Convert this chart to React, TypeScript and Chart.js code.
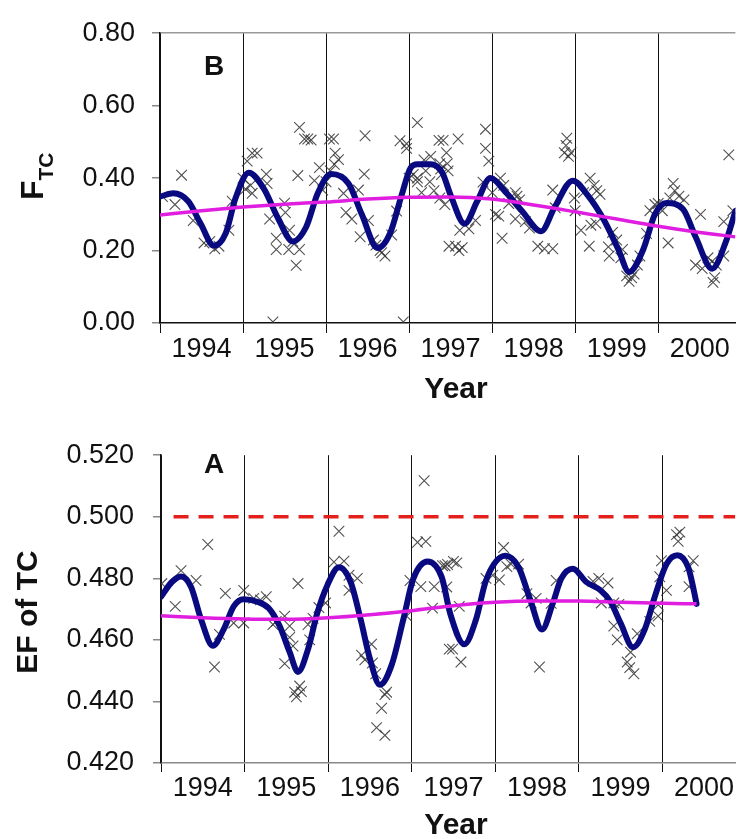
import React, { useEffect, useRef } from 'react';
import { Chart, registerables } from 'chart.js';

Chart.register(...registerables);

const FONT = '"Liberation Sans", Arial, sans-serif';

// ---------- shared axis data ----------
const yearStarts = [1994, 1995, 1996, 1997, 1998, 1999, 2000];
const yearLabels = ['1994', '1995', '1996', '1997', '1998', '1999', '2000'];

// ---------- Panel B : F_TC ----------
const fTicks = [0, 0.2, 0.4, 0.6, 0.8];
const fXMax = 2000.93;

const fScatterYears = [
  1994.03, 1994.18, 1994.26, 1994.40, 1994.53, 1994.71, 1994.83, 1994.87, 1995.05, 1995.11,
  1995.17, 1995.09, 1995.11, 1995.28, 1995.29, 1995.50, 1995.51, 1995.32, 1995.40, 1995.40,
  1995.56, 1995.64, 1995.68, 1995.55, 1995.36, 1995.66, 1995.68, 1995.74, 1995.78, 1995.82,
  1995.92, 1995.86, 1995.96, 1996.04, 1996.09, 1996.11, 1996.10, 1996.15, 1996.21, 1996.24,
  1996.31, 1996.47, 1996.46, 1996.39, 1996.41, 1996.51, 1996.57, 1996.67, 1996.71, 1996.79,
  1996.85, 1996.89, 1996.97, 1996.97, 1996.93, 1997.10, 1997.05, 1997.10, 1997.10, 1997.18,
  1997.26, 1997.36, 1997.37, 1997.38, 1997.39, 1997.15, 1997.30, 1997.37, 1997.48, 1997.41,
  1997.59, 1997.45, 1997.46, 1997.47, 1997.43, 1997.61, 1997.56, 1997.64, 1997.60, 1997.72,
  1997.80, 1997.92, 1997.92, 1997.96, 1997.89, 1998.04, 1998.08, 1998.12, 1998.10, 1998.14,
  1998.28, 1998.30, 1998.33, 1998.28, 1998.40, 1998.45, 1998.55, 1998.63, 1998.73, 1998.73,
  1998.76, 1998.87, 1998.90, 1998.89, 1998.92, 1998.95, 1998.99, 1999.00, 1999.07, 1999.17,
  1999.18, 1999.23, 1999.26, 1999.30, 1999.19, 1999.25, 1999.40, 1999.41, 1999.50, 1999.57,
  1999.62, 1999.65, 1999.68, 1999.71, 1999.75, 1999.78, 1999.86, 1999.90, 1999.96, 2000.12,
  2000.14, 2000.20, 2000.18, 2000.25, 2000.31, 2000.51, 2000.45, 2000.53, 2000.65, 2000.68,
  2000.66, 2000.79, 2000.79, 2000.85, 2000.90, 1995.00, 1995.03, 1996.00, 1996.05, 1997.00,
  1997.20, 1997.25, 1998.00, 1998.20, 1999.10, 1999.45, 1999.55, 2000.00, 2000.05, 2000.60,
  2000.70, 1994.60, 1994.66, 1995.60, 1996.60, 1996.65,
];
const fScatterValues = [
  0.349, 0.327, 0.408, 0.283, 0.221, 0.212, 0.256, 0.336, 0.447, 0.469,
  0.469, 0.380, 0.358, 0.411, 0.385, 0.331, 0.305, 0.287, 0.234, 0.203,
  0.256, 0.159, 0.203, 0.203, 0.003, 0.407, 0.540, 0.508, 0.508, 0.505,
  0.429, 0.393, 0.367, 0.508, 0.508, 0.469, 0.438, 0.451, 0.358, 0.305,
  0.287, 0.517, 0.411, 0.367, 0.238, 0.283, 0.229, 0.194, 0.185, 0.243,
  0.309, 0.503, 0.495, 0.482, 0.003, 0.553, 0.410, 0.400, 0.390, 0.450,
  0.460, 0.504, 0.440, 0.425, 0.410, 0.360, 0.365, 0.345, 0.212, 0.504,
  0.508, 0.470, 0.440, 0.420, 0.327, 0.256, 0.212, 0.208, 0.200, 0.260,
  0.283, 0.535, 0.482, 0.447, 0.389, 0.300, 0.295, 0.234, 0.400, 0.380,
  0.360, 0.350, 0.340, 0.287, 0.280, 0.262, 0.212, 0.205, 0.205, 0.367,
  0.318, 0.470, 0.510, 0.490, 0.460, 0.470, 0.345, 0.310, 0.256, 0.212,
  0.400, 0.380, 0.365, 0.355, 0.270, 0.275, 0.210, 0.185, 0.229, 0.203,
  0.130, 0.115, 0.125, 0.135, 0.160, 0.185, 0.247, 0.310, 0.327, 0.221,
  0.345, 0.365, 0.385, 0.350, 0.340, 0.300, 0.160, 0.150, 0.170, 0.125,
  0.112, 0.185, 0.280, 0.464, 0.310, 0.400, 0.370, 0.390, 0.420, 0.400,
  0.420, 0.390, 0.360, 0.330, 0.360, 0.250, 0.180, 0.330, 0.310, 0.180,
  0.160, 0.225, 0.205, 0.225, 0.215, 0.200,
];

const fCurveYears = [
  1994.00, 1994.16, 1994.34, 1994.49, 1994.65, 1994.79, 1994.91, 1995.07, 1995.25, 1995.42,
  1995.60, 1995.76, 1995.90, 1996.06, 1996.27, 1996.43, 1996.62, 1996.77, 1996.91, 1997.02,
  1997.10, 1997.26, 1997.40, 1997.50, 1997.67, 1997.82, 1997.98, 1998.16, 1998.36, 1998.59,
  1998.75, 1998.97, 1999.15, 1999.35, 1999.52, 1999.65, 1999.82, 1999.96, 2000.10, 2000.30,
  2000.45, 2000.65, 2000.81, 2000.93,
];
const fCurveValues = [
  0.349, 0.358, 0.336, 0.274, 0.213, 0.247, 0.345, 0.415, 0.371, 0.290,
  0.225, 0.265, 0.358, 0.411, 0.385, 0.300, 0.207, 0.247, 0.353, 0.429,
  0.438, 0.438, 0.415, 0.353, 0.274, 0.336, 0.400, 0.362, 0.309, 0.253,
  0.318, 0.393, 0.353, 0.283, 0.203, 0.141, 0.203, 0.300, 0.331, 0.314,
  0.238, 0.150, 0.221, 0.309,
];

const fTrendYears = [1994.0, 1994.5, 1995.0, 1995.5, 1996.0, 1996.5, 1997.0, 1997.5, 1998.0, 1998.5, 1999.0, 1999.5, 2000.0, 2000.5, 2000.93];
const fTrendValues = [0.298, 0.310, 0.320, 0.328, 0.334, 0.342, 0.347, 0.348, 0.342, 0.326, 0.307, 0.287, 0.267, 0.250, 0.238];

// ---------- Panel A : EF of TC ----------
const eTicks = [0.42, 0.44, 0.46, 0.48, 0.5, 0.52];
const eXMax = 2000.875;
const eLimitYears = [1994.15, 2000.875];
const eLimitValues = [0.5, 0.5];

const eScatterYears = [
  1994.01, 1994.17, 1994.24, 1994.42, 1994.56, 1994.64, 1994.70, 1994.77, 1994.87, 1994.99,
  1994.99, 1995.11, 1995.19, 1995.26, 1995.34, 1995.38, 1995.48, 1995.54, 1995.48, 1995.54,
  1995.58, 1995.64, 1995.60, 1995.62, 1995.68, 1995.66, 1995.76, 1995.78, 1995.82, 1995.89,
  1995.97, 1996.13, 1996.07, 1996.19, 1996.25, 1996.35, 1996.25, 1996.40, 1996.44, 1996.52,
  1996.53, 1996.57, 1996.68, 1996.64, 1996.58, 1996.68, 1996.70, 1996.94, 1996.98, 1997.07,
  1997.17, 1997.15, 1997.11, 1997.27, 1997.25, 1997.37, 1997.43, 1997.45, 1997.40, 1997.50,
  1997.54, 1997.42, 1997.57, 1997.49, 1997.59, 1997.89, 1997.97, 1998.05, 1998.10, 1998.14,
  1998.19, 1998.28, 1998.38, 1998.43, 1998.49, 1998.53, 1998.67, 1998.73, 1999.17, 1999.24,
  1999.27, 1999.35, 1999.42, 1999.48, 1999.42, 1999.46, 1999.58, 1999.61, 1999.66, 1999.62,
  1999.70, 1999.85, 1999.95, 1999.95, 1999.99, 1999.97, 2000.05, 2000.17, 2000.21, 2000.19,
  2000.32, 2000.37, 2000.32,
];
const eScatterValues = [
  0.4783, 0.4709, 0.4825, 0.4793, 0.4910, 0.4512, 0.4618, 0.4751, 0.4655, 0.4761,
  0.4655, 0.4735, 0.4730, 0.4740, 0.4650, 0.4660, 0.4677, 0.4645, 0.4523, 0.4608,
  0.4580, 0.4783, 0.4430, 0.4415, 0.4432, 0.4450, 0.4650, 0.4600, 0.4670, 0.4705,
  0.4720, 0.4953, 0.4853, 0.4856, 0.4810, 0.4800, 0.4761, 0.4550, 0.4535, 0.4586,
  0.4525, 0.4490, 0.4422, 0.4378, 0.4315, 0.4290, 0.4430, 0.4677, 0.4793, 0.4917,
  0.4920, 0.5117, 0.4773, 0.4773, 0.4703, 0.4841, 0.4845, 0.4570, 0.4841, 0.4855,
  0.4850, 0.4772, 0.4709, 0.4570, 0.4528, 0.4800, 0.4810, 0.4795, 0.4900, 0.4838,
  0.4846, 0.4846, 0.4750, 0.4720, 0.4735, 0.4512, 0.4719, 0.4793, 0.4790, 0.4800,
  0.4720, 0.4785, 0.4720, 0.4715, 0.4645, 0.4600, 0.4528, 0.4510, 0.4490, 0.4560,
  0.4620, 0.4660, 0.4677, 0.4714, 0.4857, 0.4805, 0.4761, 0.4942, 0.4950, 0.4920,
  0.4837, 0.4857, 0.4773,
];

const eCurveYears = [
  1994.00, 1994.13, 1994.24, 1994.36, 1994.48, 1994.62, 1994.75, 1994.87, 1994.99, 1995.15,
  1995.29, 1995.42, 1995.54, 1995.64, 1995.76, 1995.87, 1995.99, 1996.13, 1996.27, 1996.39,
  1996.50, 1996.62, 1996.76, 1996.90, 1997.02, 1997.19, 1997.36, 1997.46, 1997.63, 1997.77,
  1997.89, 1998.12, 1998.28, 1998.42, 1998.56, 1998.69, 1998.79, 1998.93, 1999.09, 1999.26,
  1999.38, 1999.50, 1999.65, 1999.79, 1999.91, 2000.05, 2000.18, 2000.31, 2000.36, 2000.41,
];
const eCurveValues = [
  0.4740, 0.4788, 0.4806, 0.4772, 0.4666, 0.4581, 0.4634, 0.4709, 0.4732, 0.4724,
  0.4703, 0.4645, 0.4560, 0.4496, 0.4570, 0.4687, 0.4777, 0.4836, 0.4788, 0.4666,
  0.4539, 0.4454, 0.4518, 0.4666, 0.4799, 0.4855, 0.4804, 0.4687, 0.4586, 0.4666,
  0.4793, 0.4873, 0.4836, 0.4730, 0.4634, 0.4719, 0.4799, 0.4831, 0.4788, 0.4761,
  0.4724, 0.4655, 0.4576, 0.4634, 0.4740, 0.4846, 0.4875, 0.4836, 0.4783, 0.4717,
];

const eTrendYears = [1994.0, 1994.5, 1995.0, 1995.5, 1996.0, 1996.5, 1997.0, 1997.5, 1998.0, 1998.5, 1999.0, 1999.5, 2000.0, 2000.41];
const eTrendValues = [0.4678, 0.4672, 0.4668, 0.4667, 0.4672, 0.4682, 0.4695, 0.4711, 0.4722, 0.4726, 0.4726, 0.4722, 0.4719, 0.4717];

// ---------- helpers ----------
const pts = (xs: number[], ys: number[]) => xs.map((x, i) => ({ x, y: ys[i] }));

const xTickValues = () => {
  const out: number[] = [];
  yearStarts.forEach((y) => {
    out.push(y);
    out.push(y + 0.5);
  });
  return out;
};

const labelFor = (v: number) => {
  const idx = yearStarts.indexOf(Math.floor(v));
  if (Math.abs(v - Math.floor(v) - 0.5) < 1e-6 && idx >= 0) return yearLabels[idx];
  return '';
};

const isYearStart = (ctx: any) => ctx.tick && Math.abs(ctx.tick.value - Math.round(ctx.tick.value)) < 1e-6;

type PanelCfg = {
  ticks: number[];
  decimals: number;
  xMax: number;
  padTop: number;
  yWidth: number;
  xHeight: number;
  xBorder: string;
  topLine: boolean;
  tickLen: number;
  yPad: number;
  datasets: any[];
  drawTexts: (ctx: CanvasRenderingContext2D) => void;
};

function makeConfig(p: PanelCfg): any {
  const yMin = p.ticks[0];
  const yMax = p.ticks[p.ticks.length - 1];
  return {
    type: 'scatter',
    data: { datasets: p.datasets },
    options: {
      animation: false,
      responsive: false,
      devicePixelRatio: 1,
      layout: { padding: { top: p.padTop, left: 0, right: 0, bottom: 0 } },
      plugins: { legend: { display: false }, tooltip: { enabled: false } },
      scales: {
        x: {
          type: 'linear',
          min: yearStarts[0],
          max: p.xMax,
          afterBuildTicks: (scale: any) => {
            scale.ticks = xTickValues().map((v) => ({ value: v }));
          },
          afterFit: (scale: any) => {
            scale.height = p.xHeight;
          },
          grid: {
            color: (ctx: any) => (isYearStart(ctx) ? '#111' : 'rgba(0,0,0,0)'),
            tickColor: (ctx: any) => (isYearStart(ctx) ? '#111' : 'rgba(0,0,0,0)'),
            lineWidth: 1,
            tickLength: p.tickLen,
          },
          border: { display: true, color: p.xBorder, width: 1.5 },
          ticks: {
            autoSkip: false,
            maxRotation: 0,
            minRotation: 0,
            padding: 0,
            color: '#111',
            font: { family: FONT, size: 27 },
            callback: (v: any) => labelFor(Number(v)),
          },
        },
        y: {
          type: 'linear',
          min: yMin,
          max: yMax,
          afterBuildTicks: (scale: any) => {
            scale.ticks = p.ticks.map((v) => ({ value: v }));
          },
          afterFit: (scale: any) => {
            scale.width = p.yWidth;
          },
          grid: {
            color: (ctx: any) =>
              p.topLine && ctx.tick && Math.abs(ctx.tick.value - yMax) < 1e-9 ? '#999' : 'rgba(0,0,0,0)',
            tickColor: '#888',
            lineWidth: 1.5,
            tickLength: 8,
          },
          border: { display: true, color: '#111', width: 1.5 },
          ticks: {
            padding: p.yPad,
            color: '#111',
            font: { family: FONT, size: 27 },
            callback: (v: any) => Number(v).toFixed(p.decimals),
          },
        },
      },
    },
    plugins: [
      {
        id: 'panelTexts',
        afterDraw(chart: any) {
          const ctx = chart.ctx as CanvasRenderingContext2D;
          ctx.save();
          p.drawTexts(ctx);
          ctx.restore();
        },
      },
    ],
  };
}

const crossStyle = {
  showLine: false,
  pointStyle: 'crossRot',
  pointRadius: 7.5,
  pointHoverRadius: 7.5,
  pointBorderWidth: 1.1,
  borderColor: 'rgba(50,50,50,0.85)',
  backgroundColor: 'rgba(0,0,0,0)',
};

const curveStyle = {
  showLine: true,
  borderColor: '#0a0a80',
  borderWidth: 6,
  pointRadius: 0,
  cubicInterpolationMode: 'monotone',
  borderCapStyle: 'round',
  borderJoinStyle: 'round',
};

const trendStyle = {
  showLine: true,
  borderColor: '#e01ee0',
  borderWidth: 3.5,
  pointRadius: 0,
  cubicInterpolationMode: 'monotone',
};

function drawCommon(ctx: CanvasRenderingContext2D, yearY: number, panel: string, panelY: number) {
  ctx.fillStyle = '#111';
  ctx.textAlign = 'center';
  ctx.textBaseline = 'middle';
  ctx.font = `bold 30px ${FONT}`;
  ctx.fillText('Year', 456, yearY);
  ctx.font = `bold 28px ${FONT}`;
  ctx.fillText(panel, 214, panelY);
}

export default function App() {
  const topRef = useRef<HTMLCanvasElement>(null);
  const botRef = useRef<HTMLCanvasElement>(null);

  useEffect(() => {
    const topChart = new Chart(
      topRef.current as HTMLCanvasElement,
      makeConfig({
        ticks: fTicks,
        decimals: 2,
        xMax: fXMax,
        padTop: 22,
        yWidth: 160,
        xHeight: 97,
        xBorder: '#111',
        topLine: true,
        tickLen: 10,
        yPad: 17,
        datasets: [
          { ...trendStyle, data: pts(fTrendYears, fTrendValues), order: 0 },
          { ...curveStyle, data: pts(fCurveYears, fCurveValues), order: 1 },
          { ...crossStyle, data: pts(fScatterYears, fScatterValues), order: 2 },
        ],
        drawTexts: (ctx) => {
          drawCommon(ctx, 390, 'B', 67);
          ctx.translate(43, 200);
          ctx.rotate(-Math.PI / 2);
          ctx.textAlign = 'left';
          ctx.textBaseline = 'alphabetic';
          ctx.font = `bold 32px ${FONT}`;
          ctx.fillText('F', 0, 0);
          const w = ctx.measureText('F').width;
          ctx.font = `bold 21px ${FONT}`;
          ctx.fillText('TC', w, 10);
        },
      })
    );

    const botChart = new Chart(
      botRef.current as HTMLCanvasElement,
      makeConfig({
        ticks: eTicks,
        decimals: 3,
        xMax: eXMax,
        padTop: 29,
        yWidth: 161,
        xHeight: 76,
        xBorder: '#888',
        topLine: false,
        tickLen: 9,
        yPad: 19,
        datasets: [
          { ...trendStyle, data: pts(eTrendYears, eTrendValues), order: 0 },
          { ...curveStyle, data: pts(eCurveYears, eCurveValues), order: 1 },
          { ...crossStyle, data: pts(eScatterYears, eScatterValues), order: 2 },
          {
            showLine: true,
            data: pts(eLimitYears, eLimitValues),
            borderColor: '#e3201b',
            borderWidth: 3.5,
            borderDash: [15, 10],
            pointRadius: 0,
            order: 3,
          },
        ],
        drawTexts: (ctx) => {
          drawCommon(ctx, 406, 'A', 45);
          ctx.translate(37, 192);
          ctx.rotate(-Math.PI / 2);
          ctx.textAlign = 'center';
          ctx.textBaseline = 'alphabetic';
          ctx.font = `bold 30px ${FONT}`;
          ctx.fillText('EF of TC', 0, 0);
        },
      })
    );

    return () => {
      topChart.destroy();
      botChart.destroy();
    };
  }, []);

  return (
    <div style={{ position: 'absolute', left: 0, top: 0, width: 744, height: 839, background: '#fff' }}>
      <canvas ref={topRef} width={744} height={420} style={{ display: 'block', width: 744, height: 420 }} />
      <canvas ref={botRef} width={744} height={419} style={{ display: 'block', width: 744, height: 419 }} />
    </div>
  );
}
